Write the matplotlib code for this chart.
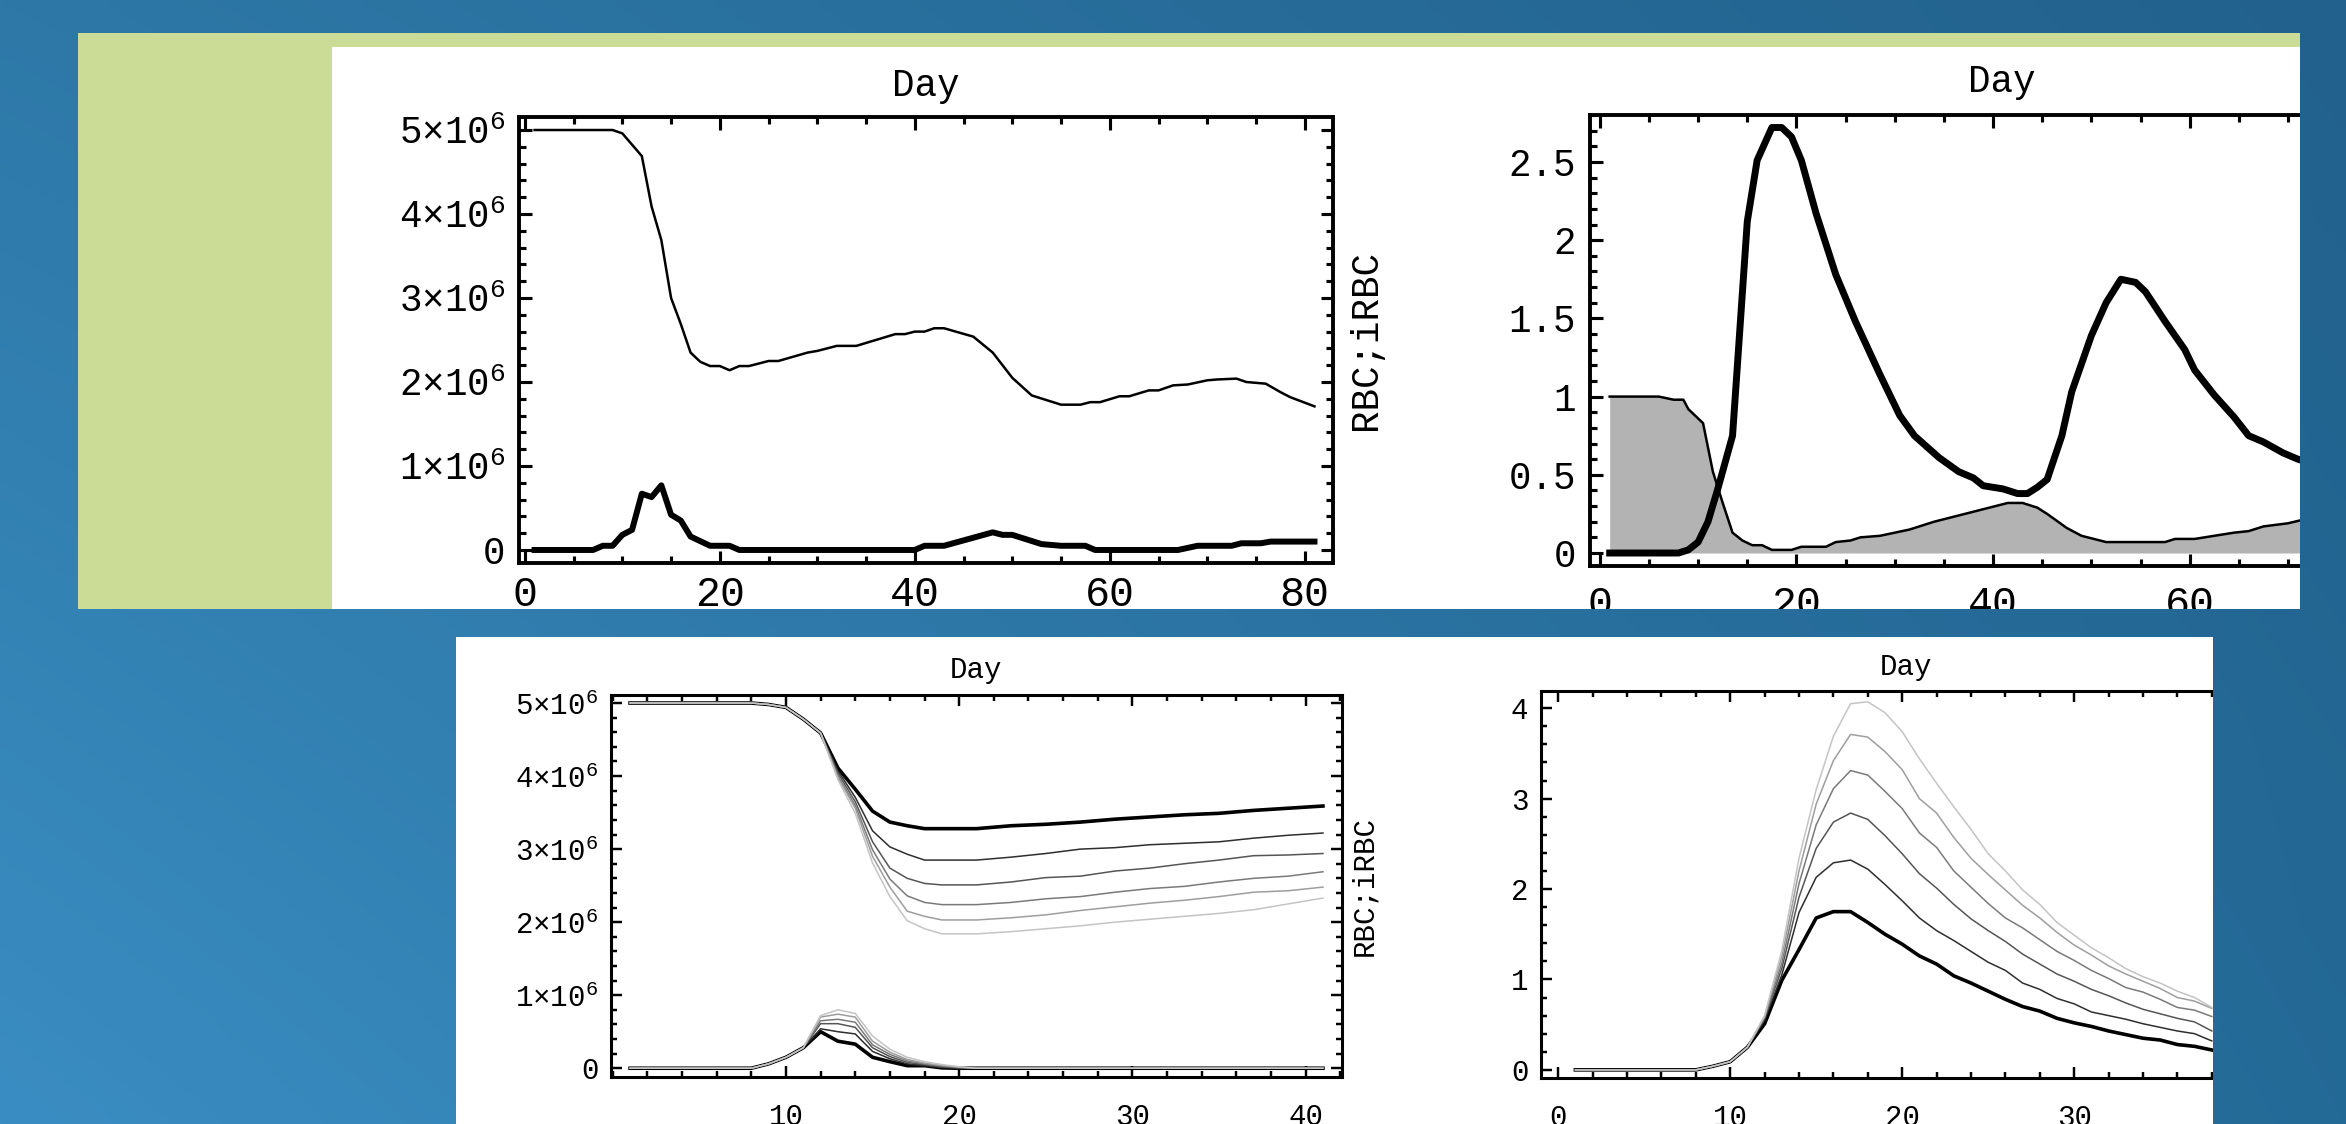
import numpy as np
import matplotlib
matplotlib.use("Agg")
import matplotlib.pyplot as plt
from matplotlib.patches import Rectangle
from matplotlib.ticker import MultipleLocator

plt.rcParams["font.family"] = ["Liberation Mono", "DejaVu Sans"]
plt.rcParams["mathtext.fontset"] = "custom"
plt.rcParams["mathtext.rm"] = "Liberation Mono"
plt.rcParams["mathtext.it"] = "Liberation Mono"
plt.rcParams["mathtext.bf"] = "Liberation Mono"

# ---- top-left: RBC and iRBC counts (units of 1e6) ----
tl_rbc_day = [1, 9, 10, 12, 13, 14, 15, 16, 17, 18, 19, 20, 21, 22, 23, 25, 26, 29, 30,
              32, 34, 36, 38, 39, 40, 41, 42, 43, 46, 48, 50, 52, 55, 57, 58, 59, 61, 62,
              64, 65, 66.5, 68, 70, 71, 73, 74, 76, 77.5, 78.5, 81]
tl_rbc_val = [5.0, 5.0, 4.96, 4.69, 4.09, 3.69, 3.0, 2.69, 2.35, 2.24, 2.19, 2.19, 2.14, 2.19, 2.19,
              2.25, 2.25, 2.35, 2.37, 2.43, 2.43, 2.50, 2.57, 2.57, 2.60, 2.60, 2.64, 2.64, 2.54,
              2.35, 2.05, 1.84, 1.73, 1.73, 1.76, 1.76, 1.83, 1.83, 1.90, 1.90, 1.96, 1.97, 2.02,
              2.03, 2.04, 2.00, 1.98, 1.88, 1.82, 1.71]
tl_irbc_day = [1, 7, 8, 9, 10, 11, 12, 13, 14, 15, 16, 17, 19, 21, 22, 40, 41, 43, 48, 49, 50,
               53, 55, 57.5, 58.5, 67, 69, 72.5, 73.5, 75.5, 76.5, 81]
tl_irbc_val = [0, 0, 0.05, 0.05, 0.18, 0.24, 0.67, 0.63, 0.77, 0.42, 0.35, 0.16, 0.05, 0.05, 0,
               0, 0.05, 0.05, 0.21, 0.18, 0.18, 0.07, 0.05, 0.05, 0, 0, 0.05, 0.05, 0.08, 0.08,
               0.10, 0.10]

# ---- top-right: thick curve and grey-filled curve ----
tr_thick_day = [1, 8, 9, 10, 11, 12, 13.5, 15, 16, 17.5, 18.5, 19.5, 20.5, 22, 24, 26, 28.5,
                30.5, 32, 34.5, 36.5, 38, 39, 41, 42.5, 43.5, 44.5, 45.5, 47, 48, 50, 51.5, 53,
                54.5, 55.5, 57.5, 59.5, 60.5, 62.5, 64.5, 66, 67.5, 69.5, 71, 72]
tr_thick_val = [0, 0, 0.02, 0.07, 0.2, 0.41, 0.75, 2.12, 2.51, 2.72, 2.72, 2.66, 2.51, 2.17,
                1.78, 1.48, 1.14, 0.88, 0.75, 0.61, 0.52, 0.48, 0.43, 0.41, 0.38, 0.38, 0.42,
                0.47, 0.75, 1.03, 1.39, 1.60, 1.75, 1.73, 1.67, 1.48, 1.30, 1.17, 1.01, 0.87,
                0.75, 0.71, 0.64, 0.60, 0.58]
tr_fill_day = [1, 6, 7.5, 8.5, 9, 10.5, 11.5, 12.5, 13.5, 14.5, 15.5, 16.5, 17.5, 19.5, 20.5,
               23, 24, 25.5, 26.5, 28.5, 31.5, 34, 41.5, 43, 44.5, 45.5, 47.5, 49, 51.5, 57.5,
               58.5, 60.5, 62.5, 64.5, 66, 67.5, 70, 72]
tr_fill_val = [1, 1, 0.98, 0.98, 0.92, 0.83, 0.52, 0.32, 0.13, 0.08, 0.05, 0.05, 0.02, 0.02,
               0.04, 0.04, 0.07, 0.08, 0.10, 0.11, 0.15, 0.20, 0.32, 0.32, 0.29, 0.25, 0.16,
               0.11, 0.07, 0.07, 0.09, 0.09, 0.11, 0.13, 0.14, 0.17, 0.19, 0.22]

# ---- bottom-left: six runs, RBC (upper) and iRBC (lower), units of 1e6 ----
bl_rbc_day = [1, 8, 9, 10, 11, 12, 13, 14, 15, 16, 17, 18, 19, 21, 23, 25, 27, 29, 31, 33,
              35, 37, 39, 41]
bl_rbc_head = [5.0, 5.0, 4.98, 4.94, 4.78, 4.59]
bl_rbc_tail = [
    [4.11, 3.82, 3.52, 3.37, 3.32, 3.28, 3.28, 3.28, 3.32, 3.34, 3.37, 3.41, 3.44, 3.47, 3.49, 3.53, 3.56, 3.59],
    [4.07, 3.71, 3.25, 3.03, 2.93, 2.85, 2.85, 2.85, 2.89, 2.94, 3.00, 3.02, 3.06, 3.08, 3.10, 3.15, 3.19, 3.22],
    [4.04, 3.65, 3.10, 2.74, 2.60, 2.53, 2.51, 2.51, 2.55, 2.61, 2.63, 2.70, 2.74, 2.80, 2.85, 2.91, 2.92, 2.94],
    [4.00, 3.60, 2.99, 2.59, 2.36, 2.27, 2.24, 2.24, 2.27, 2.32, 2.35, 2.41, 2.46, 2.49, 2.55, 2.60, 2.63, 2.69],
    [3.98, 3.56, 2.90, 2.48, 2.15, 2.08, 2.03, 2.03, 2.06, 2.10, 2.16, 2.21, 2.26, 2.30, 2.35, 2.41, 2.43, 2.48],
    [3.95, 3.49, 2.81, 2.35, 2.02, 1.91, 1.84, 1.84, 1.87, 1.91, 1.95, 2.00, 2.04, 2.08, 2.12, 2.17, 2.25, 2.33],
]
bl_irbc_day = [1, 8, 9, 10, 11, 12, 13, 14, 15, 16, 17, 18, 19, 20, 21, 41]
bl_irbc_val = [
    [0, 0, 0.06, 0.15, 0.28, 0.50, 0.37, 0.33, 0.15, 0.09, 0.035, 0.035, 0.005, 0, 0, 0],
    [0, 0, 0.06, 0.15, 0.28, 0.54, 0.50, 0.47, 0.23, 0.13, 0.06, 0.035, 0.01, 0.003, 0, 0],
    [0, 0, 0.06, 0.15, 0.28, 0.61, 0.61, 0.56, 0.28, 0.16, 0.08, 0.05, 0.02, 0.005, 0, 0],
    [0, 0, 0.06, 0.15, 0.28, 0.65, 0.67, 0.63, 0.32, 0.19, 0.10, 0.06, 0.03, 0.01, 0, 0],
    [0, 0, 0.06, 0.15, 0.28, 0.70, 0.74, 0.70, 0.37, 0.22, 0.12, 0.07, 0.04, 0.015, 0, 0],
    [0, 0, 0.06, 0.15, 0.28, 0.72, 0.80, 0.75, 0.44, 0.26, 0.15, 0.09, 0.05, 0.02, 0, 0],
]

# ---- bottom-right: six runs ----
br_day = [1, 8, 9, 10, 11, 12, 13, 14, 15, 16, 17, 18, 19, 20, 21, 22, 23, 24, 25, 26, 27,
          28, 29, 30, 31, 32, 33, 34, 35, 36, 37, 38]
br_head = [0, 0, 0.04, 0.09, 0.25]
br_tail = [
    [0.51, 0.99, 1.33, 1.68, 1.75, 1.75, 1.63, 1.50, 1.39, 1.26, 1.17, 1.04, 0.96, 0.87, 0.78, 0.70, 0.65, 0.57, 0.52, 0.48, 0.43, 0.39, 0.35, 0.33, 0.28, 0.26, 0.22],
    [0.55, 1.05, 1.74, 2.13, 2.29, 2.32, 2.22, 2.05, 1.87, 1.68, 1.54, 1.43, 1.31, 1.19, 1.10, 0.96, 0.89, 0.79, 0.73, 0.64, 0.60, 0.56, 0.51, 0.47, 0.43, 0.40, 0.32],
    [0.57, 1.12, 1.91, 2.45, 2.74, 2.84, 2.77, 2.59, 2.39, 2.17, 2.01, 1.83, 1.67, 1.54, 1.42, 1.28, 1.17, 1.06, 0.98, 0.89, 0.82, 0.74, 0.67, 0.62, 0.57, 0.53, 0.43],
    [0.58, 1.18, 2.06, 2.71, 3.11, 3.31, 3.26, 3.08, 2.89, 2.62, 2.46, 2.20, 2.02, 1.84, 1.68, 1.57, 1.44, 1.31, 1.21, 1.10, 1.01, 0.91, 0.86, 0.78, 0.69, 0.66, 0.59],
    [0.59, 1.25, 2.20, 2.94, 3.42, 3.71, 3.68, 3.52, 3.32, 3.00, 2.84, 2.57, 2.34, 2.16, 1.99, 1.82, 1.68, 1.52, 1.38, 1.27, 1.15, 1.06, 0.98, 0.90, 0.80, 0.76, 0.68],
    [0.60, 1.32, 2.34, 3.10, 3.69, 4.05, 4.07, 3.95, 3.74, 3.44, 3.17, 2.91, 2.66, 2.39, 2.20, 1.99, 1.83, 1.63, 1.49, 1.35, 1.24, 1.12, 1.03, 0.96, 0.87, 0.80, 0.69],
]

run_grey = ["#000000", "#2e2e2e", "#555555", "#7a7a7a", "#9e9e9e", "#c4c4c4"]
run_lw = [2.6, 1.1, 1.1, 1.1, 1.1, 1.1]

W, H = 2346, 1124
fig = plt.figure(figsize=(W / 100, H / 100), dpi=100)


def box(x0, y0, x1, y1):
    # pixel box (top-left origin) -> figure fraction rect
    return [x0 / W, 1 - y1 / H, (x1 - x0) / W, (y1 - y0) / H]


# slide background: blue gradient
c_tl = np.array([0x2d, 0x78, 0xa7]) / 255
c_tr = np.array([0x22, 0x61, 0x8d]) / 255
c_bl = np.array([0x3a, 0x8d, 0xc2]) / 255
c_br = np.array([0x24, 0x6a, 0x97]) / 255
yy, xx = np.mgrid[0:1:120j, 0:1:240j]
xx, yy = xx[..., None], yy[..., None]
grad = (c_tl * (1 - xx) * (1 - yy) + c_tr * xx * (1 - yy)
        + c_bl * (1 - xx) * yy + c_br * xx * yy)


def backdrop(x0, y0, x1, y1, z):
    a = fig.add_axes(box(x0, y0, x1, y1), zorder=z)
    a.imshow(grad, extent=[0, W, H, 0], aspect="auto", interpolation="bilinear")
    a.set_xlim(x0, x1)
    a.set_ylim(y1, y0)
    a.axis("off")
    return a


backdrop(0, 0, W, H, -5)

for (x0, y0, x1, y1), col in [((78, 33, 2300, 609), "#cadc96"),
                              ((332, 47, 2300, 609), "white"),
                              ((456, 637, 2213, 1124), "white")]:
    fig.add_artist(Rectangle((x0 / W, 1 - y1 / H), (x1 - x0) / W, (y1 - y0) / H,
                             transform=fig.transFigure, facecolor=col,
                             edgecolor="none", zorder=-1))


def frame(ax, lw, fs, big, small, pad_x, pad_y, fs_x=None):
    for s in ax.spines.values():
        s.set_linewidth(lw)
    ax.tick_params(which="both", direction="in", top=True, right=True,
                   width=lw * 0.8, labelsize=fs)
    ax.tick_params(which="major", length=big)
    ax.tick_params(which="minor", length=small)
    ax.tick_params(axis="x", pad=pad_x, labelsize=fs_x or fs)
    ax.tick_params(axis="y", pad=pad_y)


def mega(vals):
    return ["0" if v == 0 else f"{v}×10$^{{6}}$" for v in vals]


# ---------- top-left ----------
ax1 = fig.add_axes(box(519, 117, 1333, 563))
ax1.plot(tl_rbc_day, np.array(tl_rbc_val) * 1e6, color="black", lw=1.8)
ax1.plot(tl_irbc_day, np.array(tl_irbc_val) * 1e6, color="black", lw=4.3)
ax1.set_xlim(-0.6, 82.9)
ax1.set_ylim(-0.155e6, 5.155e6)
ax1.set_xticks([0, 20, 40, 60, 80])
ax1.xaxis.set_minor_locator(MultipleLocator(5))
ax1.set_yticks(np.arange(6) * 1e6, mega(range(6)))
ax1.yaxis.set_minor_locator(MultipleLocator(0.2e6))
frame(ax1, 2.8, 27, 9, 5, 9, 10, fs_x=30)
ax1.text(0.5, 1.070, "Day", transform=ax1.transAxes, ha="center", va="center", fontsize=27)
ax1.text(1.040, 0.5, "RBC;iRBC", transform=ax1.transAxes, ha="center", va="center",
         rotation=90, fontsize=27)

# ---------- top-right ----------
ax2 = fig.add_axes(box(1590, 115, 2404, 566))
ax2.fill_between(tr_fill_day, tr_fill_val, 0, color="#b3b3b3", lw=0)
ax2.plot(tr_fill_day, tr_fill_val, color="black", lw=1.8)
ax2.plot(tr_thick_day, tr_thick_val, color="black", lw=5)
ax2.set_xlim(-1.0, 81.8)
ax2.set_ylim(-0.083, 2.80)
ax2.set_xticks([0, 20, 40, 60, 80])
ax2.xaxis.set_minor_locator(MultipleLocator(5))
ax2.set_yticks([0, 0.5, 1, 1.5, 2, 2.5], ["0", "0.5", "1", "1.5", "2", "2.5"])
ax2.yaxis.set_minor_locator(MultipleLocator(0.1))
frame(ax2, 2.8, 27, 9, 5, 14, 10, fs_x=30)
ax2.text(0.506, 1.073, "Day", transform=ax2.transAxes, ha="center", va="center", fontsize=27)

# ---------- bottom-left ----------
ax3 = fig.add_axes(box(611, 695, 1342, 1077))
for k in range(6):
    ax3.plot(bl_rbc_day, np.array(bl_rbc_head + bl_rbc_tail[k]) * 1e6,
             color=run_grey[k], lw=run_lw[k])
for k in range(6):
    ax3.plot(bl_irbc_day, np.array(bl_irbc_val[k]) * 1e6, color=run_grey[k], lw=run_lw[k])
ax3.set_xlim(-0.1, 42.1)
ax3.set_ylim(-0.12e6, 5.11e6)
ax3.set_xticks([10, 20, 30, 40])
ax3.xaxis.set_minor_locator(MultipleLocator(2))
ax3.set_yticks(np.arange(6) * 1e6, mega(range(6)))
ax3.yaxis.set_minor_locator(MultipleLocator(0.2e6))
frame(ax3, 2.2, 21, 8, 4, 19, 9)
ax3.text(0.5, 1.065, "Day", transform=ax3.transAxes, ha="center", va="center", fontsize=21)
ax3.text(1.030, 0.5, "RBC;iRBC", transform=ax3.transAxes, ha="center", va="center",
         rotation=90, fontsize=21)

# ---------- bottom-right ----------
ax4 = fig.add_axes(box(1541, 691, 2272, 1078))
for k in range(6):
    ax4.plot(br_day, br_head + br_tail[k], color=run_grey[k], lw=run_lw[k])
ax4.set_xlim(-1.0, 41.5)
ax4.set_ylim(-0.09, 4.19)
ax4.set_xticks([0, 10, 20, 30, 40])
ax4.xaxis.set_minor_locator(MultipleLocator(2))
ax4.set_yticks([0, 1, 2, 3, 4])
ax4.yaxis.set_minor_locator(MultipleLocator(0.2))
frame(ax4, 2.2, 21, 8, 4, 19, 9)
ax4.text(0.5, 1.063, "Day", transform=ax4.transAxes, ha="center", va="center", fontsize=21)

# charts run past the white panels; the slide background hides the overflow
backdrop(2300, 0, W, 637, 5)
backdrop(0, 609, W, 637, 5)
backdrop(2213, 637, W, H, 5)

fig.savefig("out.png", dpi=100)
